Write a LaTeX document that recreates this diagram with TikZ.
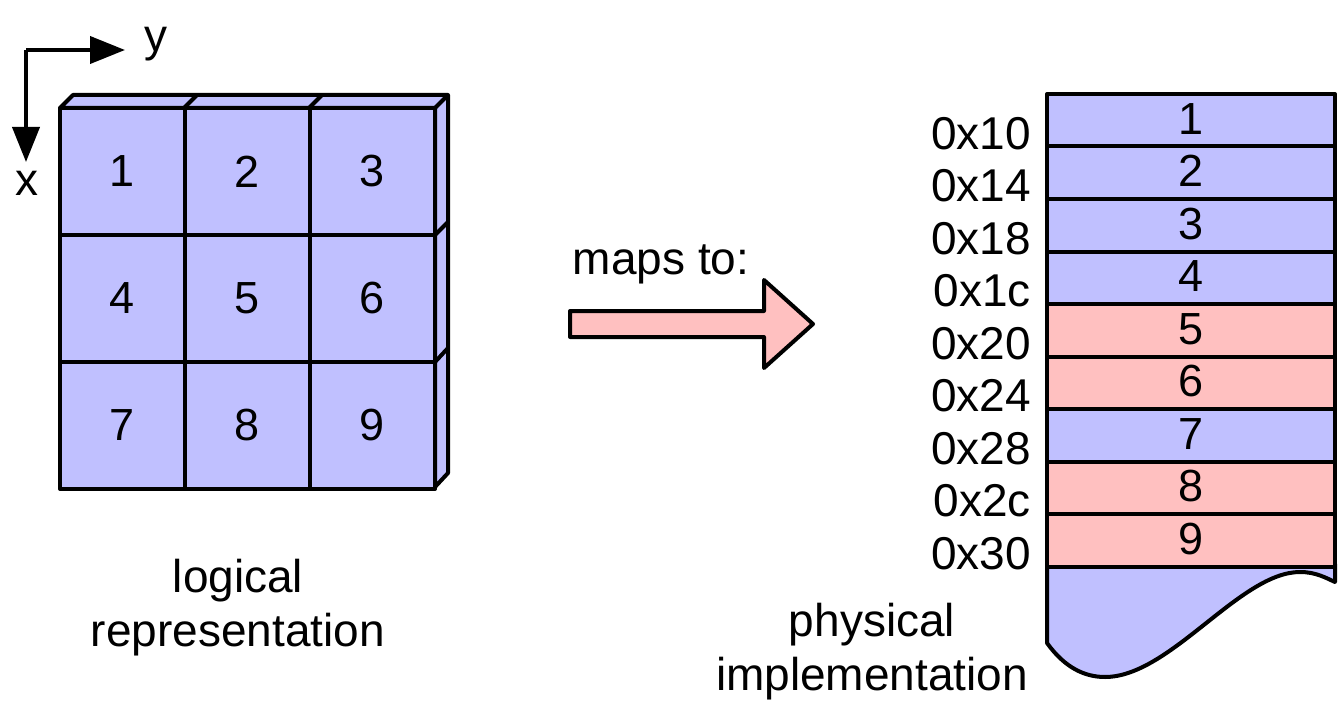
\documentclass[tikz,border=0pt]{standalone}
\usepackage{fontspec}
\setmainfont{Liberation Sans}
\usetikzlibrary{arrows.meta}
\definecolor{cblue}{HTML}{C0C0FF}
\definecolor{cpink}{HTML}{FFC0C0}
\tikzset{
  thk/.style={line width=4pt, line join=round},
  lbl/.style={font=\fontsize{46}{55}\selectfont, inner sep=0pt},
  cell/.style={thk, draw, fill=cblue, minimum width=125pt, minimum height=127pt, inner sep=0pt, font=\fontsize{45}{54}\selectfont},
  memrow/.style={thk, draw, minimum width=288pt, minimum height=52.5pt, inner sep=0pt, font=\fontsize{45}{54}\selectfont},
  addr/.style={lbl, anchor=east},
}
\begin{document}
\begin{tikzpicture}[x=1pt,y=-1pt]
\useasboundingbox (0,0) rectangle (1338,722);
% axes
\coordinate (o) at (26,50);
\coordinate (ye) at (125,50);
\coordinate (xe) at (26,162);
\draw[line width=4pt, -{Triangle[length=35pt,width=27pt]}] (o) -- (ye);
\draw[line width=4pt, -{Triangle[length=35pt,width=27pt]}] (o) -- (xe);
\node[lbl] (ylab) at (156,44) {y};
\node[lbl] (xlab) at (27,183) {x};
% 3D depth faces
\draw[thk, fill=cblue] (60,108) -- (73,95) -- (448,95) -- (448,473) -- (435,487) -- (435,108) -- cycle;
\draw[thk] (184,108) -- (197,95);
\draw[thk] (309,108) -- (322,95);
\draw[thk] (435,108) -- (448,95);
\draw[thk] (435,235) -- (448,222);
\draw[thk] (435,362) -- (448,348);
% cells
\foreach \r in {0,1,2}{
  \foreach \c in {0,1,2}{
    \pgfmathtruncatemacro{\n}{3*\r+\c+1}
    \node[cell] (c\n) at ({122.5+125*\c},{171.5+127*\r}) {\n};
  }
}
\node[lbl, align=center] (logical) at (238,608) {logical\\[-1pt]representation};
% big arrow
\draw[thk, fill=cpink] (570,311) -- (764,311) -- (764,280) -- (813,324) -- (764,368) -- (764,337) -- (570,337) -- cycle;
\node[lbl] (maps) at (661,264) {maps to:};
% memory bottom
\draw[thk, fill=cblue] (1047,564) -- (1047,643) .. controls (1065,668) and (1085,677) .. (1105,677) .. controls (1170,677) and (1240,572) .. (1300,572) .. controls (1316,572) and (1326,578) .. (1335,582) -- (1335,564) -- cycle;
% memory rows
\foreach \i/\col/\a in {1/cblue/10,2/cblue/14,3/cblue/18,4/cblue/1c,5/cpink/20,6/cpink/24,7/cblue/28,8/cpink/2c,9/cpink/30}{
  \node[memrow, fill=\col] (m\i) at (1191,{94+52.5*(\i-1)+26.25}) {\raisebox{3pt}{\i}};
  \node[addr] (a\i) at (1031,{94+52.5*\i-13}) {0x\a};
}
\node[lbl, align=center] (phys) at (872,652) {physical\\[-1pt]implementation};
\end{tikzpicture}
\end{document}
